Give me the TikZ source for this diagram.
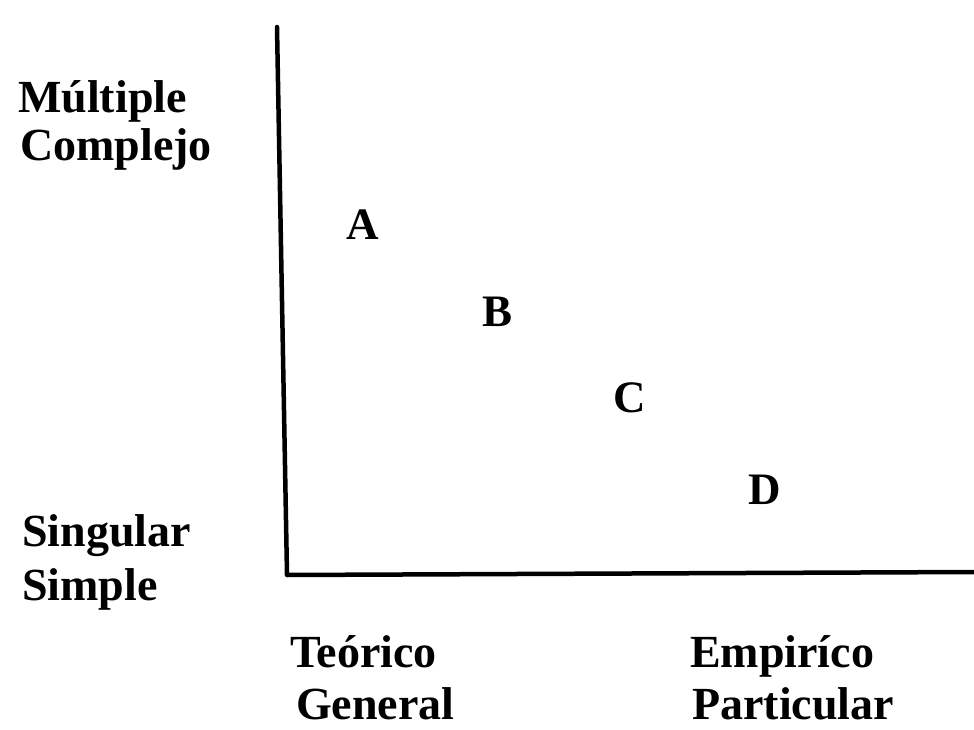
\documentclass[tikz,border=0pt]{standalone}
\usepackage{fontspec}
\setmainfont{Liberation Serif}
\begin{document}
\begin{tikzpicture}[x=1pt,y=-1pt,
  lab/.style={font=\fontsize{46}{50}\selectfont\bfseries, anchor=base west, inner sep=0pt},
  pt/.style={font=\fontsize{45}{50}\selectfont\bfseries, anchor=center, inner sep=0pt},
  axis/.style={line width=4.5pt, line cap=round, line join=round}]
\useasboundingbox (0,0) rectangle (974,730);
\coordinate (top) at (277,27);
\coordinate (origin) at (287,575);
\coordinate (right) at (974,572);
\draw[axis] (top) -- (origin) -- (right);
\node[lab] (m1) at (18,113) {Múltiple};
\node[lab] (m2) at (20,161) {Complejo};
\node[lab] (s1) at (22,546) {Singular};
\node[lab] (s2) at (22,600) {Simple};
\node[lab] (t1) at (290,667) {Teórico};
\node[lab] (t2) at (296,719) {General};
\node[lab] (e1) at (690,667) {Empiríco};
\node[lab] (e2) at (692,719) {Particular};
\node[pt] (A) at (363,225) {A};
\node[pt] (B) at (498,312) {B};
\node[pt] (C) at (630,398) {C};
\node[pt] (D) at (765,490) {D};
\end{tikzpicture}
\end{document}
